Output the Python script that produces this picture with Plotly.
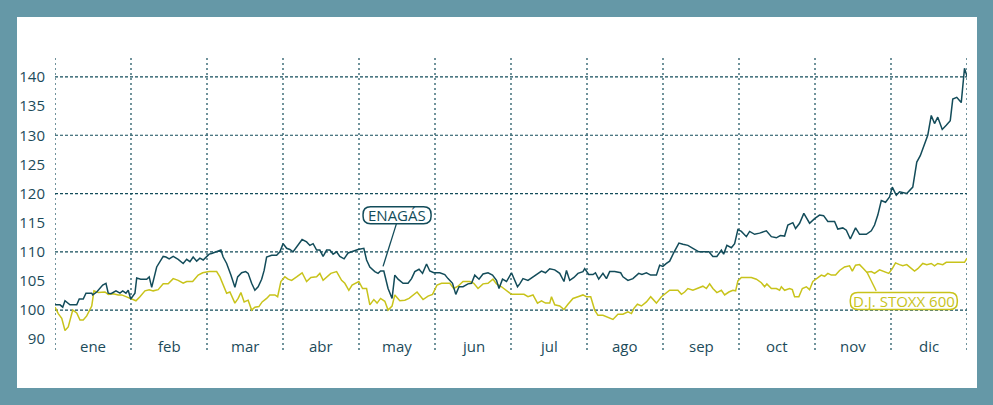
import plotly.graph_objects as go

# ---- data (x = day of year on a uniform 365-day scale) ----
months = ["ene", "feb", "mar", "abr", "may", "jun", "jul", "ago", "sep", "oct", "nov", "dic"]

enagas_day = [0, 2, 3.1, 4, 6, 8.7, 9.7, 11.3, 12.4, 14.7, 15.1, 16.7, 19.1, 20.4, 21.3, 22.4, 24.4, 26,
              27.1, 28.4, 29.3, 30.3, 32, 32.7, 34.3, 36.7, 37.7, 38.7, 40.7, 43.3, 44.4, 45.7, 47.3, 49.3,
              51.3, 52.7, 54, 55.3, 56.7, 58, 59.3, 60.7, 61.7, 62.7, 64.7, 66.4, 67.3, 68.7, 70.4, 72, 73.1,
              74.7, 76.3, 77.3, 78.7, 80, 81.3, 82.7, 83.7, 84.7, 86.7, 88.7, 90, 91.3, 92.7, 94, 95.3, 97.3,
              98.9, 100.7, 102, 103.3, 104.7, 106, 107.3, 108.7, 110, 111.3, 112.7, 114, 115.7, 117.3, 119.3,
              121.3, 123.6, 124.7, 126, 128, 129.3, 130.3, 131.6, 133.3, 134.9, 136, 137.3, 139.3, 141.3,
              142.7, 144, 145.7, 147.1, 148.7, 150, 151.6, 154, 156, 157.3, 159.1, 160.4, 161.7, 163.3, 165.3,
              166.7, 168, 169.7, 171.3, 173.3, 175.1, 176.7, 177.7, 179.1, 180.7, 182.7, 184, 185.1, 186,
              187.3, 189.3, 191.3, 193.1, 194.7, 196.3, 198, 200, 202, 203.7, 204.7, 206, 207.7, 209.3, 211.3,
              212, 213.6, 215.3, 216.3, 217.6, 219.3, 220.7, 222, 224, 226.4, 227.3, 229.3, 231.3, 233.6,
              234.9, 236.7, 238.4, 240.7, 242, 243.3, 244.7, 246, 247.7, 249.7, 251.3, 253.3, 255.3, 257.7,
              259.3, 261.7, 263.3, 264.9, 266.7, 267.6, 268.9, 270.7, 272, 273.3, 274.7, 276.7, 278, 280, 282,
              284.7, 286.7, 288.7, 290.3, 292, 293.3, 295.3, 296.4, 298, 299.7, 302, 304, 306, 307.6, 309.3,
              312, 313.3, 315.3, 316.7, 318.3, 320.4, 322, 324.7, 326.7, 328, 329.3, 330.7, 332.4, 334, 335.1,
              336.7, 338, 340.9, 343.3, 344.9, 346.3, 348, 349.3, 350.7, 352, 353.3, 355.1, 356.7, 358.3,
              359.3, 360.9, 362.7, 364, 365]
enagas_val = [100.9, 100.9, 100.5, 101.6, 100.9, 100.9, 101.9, 101.9, 102.9, 102.9, 102.6, 103.1, 104.3, 104.6,
              102.9, 102.8, 103.3, 102.9, 103.3, 102.9, 103.4, 101.9, 102.9, 105.5, 105.3, 105.3, 105.7, 103.9,
              107.4, 109.2, 109.1, 108.8, 109.2, 108.7, 108.0, 108.7, 108.3, 109.1, 108.4, 108.9, 108.6, 109.1,
              109.6, 109.7, 110.0, 110.3, 109.1, 108.0, 106.0, 103.9, 105.7, 106.4, 106.6, 106.3, 104.6, 103.4,
              104.0, 105.3, 106.8, 109.1, 109.4, 109.4, 110.0, 111.4, 110.6, 110.4, 110.0, 111.1, 112.1, 111.7,
              111.1, 111.4, 110.3, 110.3, 109.2, 110.3, 110.3, 109.6, 110.0, 109.2, 108.8, 109.8, 110.1, 110.4,
              110.6, 108.6, 107.4, 106.6, 106.3, 106.7, 106.7, 103.7, 102.0, 106.0, 105.3, 104.6, 104.6, 105.4,
              106.6, 107.0, 106.3, 107.9, 106.7, 106.4, 106.4, 106.1, 105.4, 104.6, 102.7, 104.0, 104.0, 104.5,
              104.6, 106.0, 105.3, 106.2, 106.4, 106.0, 105.1, 103.7, 105.3, 104.9, 106.4, 105.0, 104.0, 104.5,
              105.4, 105.1, 105.7, 106.3, 106.7, 106.4, 107.1, 106.9, 106.3, 104.9, 106.8, 105.1, 105.6, 106.3,
              106.6, 107.1, 106.1, 106.1, 106.4, 105.3, 106.3, 105.4, 106.6, 106.6, 106.4, 105.7, 105.1, 105.4,
              106.3, 106.1, 106.4, 106.0, 106.0, 107.7, 107.5, 108.0, 108.4, 109.9, 111.5, 111.3, 111.1, 110.6,
              110.0, 110.0, 110.0, 109.2, 109.2, 110.3, 109.6, 111.1, 110.7, 111.4, 113.8, 113.5, 112.6, 113.5,
              113.0, 113.2, 113.6, 112.6, 112.4, 112.8, 112.7, 114.6, 115.0, 114.0, 114.9, 116.6, 114.9, 115.7,
              116.3, 116.2, 115.2, 115.2, 113.9, 114.1, 113.7, 112.2, 114.1, 113.0, 113.0, 113.6, 114.6, 116.3,
              118.8, 118.5, 119.4, 121.1, 119.7, 120.3, 120.0, 121.1, 125.4, 126.5, 128.5, 130.0, 133.4, 132.0,
              133.1, 131.0, 131.7, 132.5, 136.2, 136.5, 135.6, 141.5, 140.1]

stoxx_day = [0, 1.3, 2.7, 4, 5.3, 7.1, 8.7, 10, 11.3, 12.7, 14.7, 15.6, 17.3, 20, 21.3, 23.3, 25.3, 26.7, 28.4,
             30, 32.4, 34, 36, 37.7, 39.3, 41.3, 43.3, 45.3, 47.3, 49.3, 51.3, 52.7, 55.1, 57.3, 59.1, 61.7,
             63.3, 64.7, 66, 67.3, 68.7, 70, 72, 73.3, 74.4, 75.7, 77.3, 78.7, 80, 81.6, 82.9, 84.7, 86, 88,
             89.1, 90.4, 92, 93.3, 94.7, 96.7, 98.9, 100.7, 102.4, 104.7, 106, 107.3, 108.7, 110.4, 112.7,
             114.7, 116, 117.6, 118.9, 121.6, 123.1, 124.7, 126, 127.6, 128.9, 130.3, 132, 133.3, 134.9, 136,
             138, 140, 141.7, 143.3, 144.9, 147.3, 149.3, 151.1, 152.9, 154.7, 158, 159.6, 161.3, 163.3, 166,
             167.6, 169.3, 171.3, 173.3, 175.3, 176.7, 178.7, 180.7, 182.7, 185.7, 187.7, 189.3, 191.3, 193.1,
             194.7, 196.3, 198, 198.7, 200, 202, 203.7, 205.3, 207.3, 209.3, 211.3, 212.7, 214.4, 216, 217.3,
             219.3, 221.3, 223.3, 225.3, 227.3, 229.3, 230.7, 231.7, 233.1, 234.7, 236.7, 238.4, 240.7, 242.7,
             244, 246, 249.3, 250.7, 252, 253.3, 255.3, 257.7, 259.3, 260.7, 262, 263.3, 264.9, 266.7, 268,
             269.7, 271.3, 272.4, 273.3, 274.7, 278.7, 280.7, 282.7, 284, 284.9, 286.7, 288.7, 290, 290.7, 292,
             294, 295.1, 296, 297.7, 299.1, 300.7, 302, 303.3, 305.3, 306.7, 308, 309.3, 310.7, 312.4, 314,
             316, 318, 319.1, 320.4, 322, 323.6, 324.9, 326.7, 328, 330, 332, 333.7, 335.1, 336.4, 338, 339.3,
             340.9, 342.7, 344, 345.3, 347.3, 348.9, 350.7, 352, 353.3, 355.3, 356.7, 359.3, 362, 364, 365]
stoxx_val = [100.5, 99.4, 98.6, 96.5, 97.1, 100.0, 99.5, 98.3, 98.3, 99.0, 100.7, 103.3, 103.0, 103.1, 102.7,
             102.8, 102.6, 102.6, 102.3, 102.0, 101.6, 102.3, 103.3, 103.5, 103.3, 103.5, 104.5, 104.5, 105.4,
             105.1, 104.6, 104.9, 104.9, 106.0, 106.4, 106.6, 106.6, 106.6, 105.7, 104.3, 102.9, 103.1, 101.2,
             102.0, 103.0, 101.4, 101.7, 100.0, 100.5, 100.6, 101.4, 102.0, 102.6, 102.6, 102.3, 104.9, 105.7,
             105.3, 105.1, 105.7, 106.4, 104.9, 105.6, 105.7, 106.3, 105.1, 105.7, 106.3, 106.6, 105.1, 104.6,
             103.4, 104.3, 104.9, 103.7, 103.7, 100.9, 101.8, 101.2, 102.0, 101.5, 100.0, 100.7, 102.6, 101.6,
             101.7, 102.0, 102.6, 103.1, 101.8, 102.4, 102.7, 104.3, 104.6, 104.6, 103.7, 104.1, 104.9, 104.9,
             104.6, 103.7, 104.5, 104.6, 105.3, 104.5, 104.0, 103.3, 102.7, 102.7, 102.7, 102.3, 102.6, 101.2,
             101.6, 101.2, 101.2, 102.3, 100.9, 100.7, 100.1, 101.0, 102.0, 102.3, 102.6, 102.3, 102.3, 100.0,
             99.1, 99.1, 98.7, 98.4, 99.3, 99.3, 99.7, 99.4, 100.3, 101.0, 100.7, 101.4, 102.3, 101.2, 102.3,
             102.7, 103.4, 103.4, 102.7, 103.1, 103.7, 103.4, 103.9, 104.1, 103.7, 104.5, 103.7, 103.0, 103.4,
             102.6, 103.1, 103.4, 103.3, 105.0, 105.6, 105.6, 105.3, 104.7, 104.0, 104.5, 103.7, 103.7, 103.4,
             104.0, 103.4, 103.7, 103.5, 102.3, 102.3, 103.7, 104.0, 103.5, 104.9, 105.6, 106.0, 105.8, 106.3,
             106.0, 106.0, 106.8, 107.4, 107.6, 106.7, 107.7, 107.8, 107.1, 106.5, 106.6, 106.3, 106.9, 106.6,
             106.3, 107.1, 108.1, 107.8, 107.6, 107.8, 107.1, 106.7, 107.1, 108.0, 107.8, 108.0, 107.6, 108.0,
             107.8, 108.2, 108.2, 108.2, 108.2, 108.9]

ytick_vals = [95, 100, 105, 110, 115, 120, 125, 130, 135, 140]
ytick_text = ["90", "100", "105", "110", "115", "120", "125", "130", "135", "140"]
hgrid_vals = [100, 110, 120, 130, 140]

# callout anchors (data points the leader lines touch)
enagas_point = (131.3, 107.5)
stoxx_point = (324.9, 106.55)

# ---- styles ----
DARK = "#134c5a"
YELLOW = "#c8c31b"
FRAME = "#6598a7"
TXT = "#1c4b5a"
FONT = "Open Sans"

YEAR = 365
month_len = YEAR / 12
boundaries = [i * month_len for i in range(13)]
centers = [(i + 0.5) * month_len for i in range(12)]

fig = go.Figure()
fig.add_trace(go.Scatter(x=stoxx_day, y=stoxx_val, mode="lines", name="D.J. STOXX 600",
                         line=dict(color=YELLOW, width=1.5), hoverinfo="skip"))
fig.add_trace(go.Scatter(x=enagas_day, y=enagas_val, mode="lines", name="ENAGÁS",
                         line=dict(color=DARK, width=1.5), hoverinfo="skip"))

shapes = []
# white card on teal frame (paper coords relative to plot domain)
L, R, T, B = 55, 967, 55, 350
def px2px(x):
    return (x - L) / (R - L)
def py2py(y):
    return (B - y) / (B - T)
shapes.append(dict(type="rect", xref="paper", yref="paper", layer="below",
                   x0=px2px(17), x1=px2px(977), y0=py2py(388), y1=py2py(17),
                   fillcolor="white", line=dict(width=0)))

for b in boundaries:
    shapes.append(dict(type="line", xref="x", yref="paper", x0=b, x1=b, y0=0, y1=1, layer="below",
                       line=dict(color=DARK, width=1.2, dash="2px,3px")))
for h in hgrid_vals:
    shapes.append(dict(type="line", xref="paper", yref="y", x0=0, x1=1, y0=h, y1=h, layer="below",
                       line=dict(color=DARK, width=1.2, dash="3px,2px")))


def rounded_rect(cx, cy, w, h, r):
    x0, x1 = cx - w / 2, cx + w / 2
    y0, y1 = cy - h / 2, cy + h / 2
    return (f"M{x0 + r},{y0} L{x1 - r},{y0} Q{x1},{y0} {x1},{y0 + r} L{x1},{y1 - r} "
            f"Q{x1},{y1} {x1 - r},{y1} L{x0 + r},{y1} Q{x0},{y1} {x0},{y1 - r} "
            f"L{x0},{y0 + r} Q{x0},{y0} {x0 + r},{y0} Z")


def callout(point, text, color, dx, dy, w, h, lx, ly):
    px, py = point
    shapes.append(dict(type="line", xref="x", yref="y", xsizemode="pixel", ysizemode="pixel",
                       xanchor=px, yanchor=py, x0=0, y0=0, x1=lx, y1=ly,
                       line=dict(color=color, width=1.3)))
    shapes.append(dict(type="path", xref="x", yref="y", xsizemode="pixel", ysizemode="pixel",
                       xanchor=px, yanchor=py, path=rounded_rect(dx, dy, w, h, h / 2 - 1),
                       fillcolor="white", line=dict(color=color, width=1.5)))
    return dict(x=px, y=py, xref="x", yref="y", text=text, showarrow=False,
                xshift=dx, yshift=dy, font=dict(family=FONT, size=15, color=color))


annotations = []
annotations.append(callout(enagas_point, "ENAGÁS", DARK, 14, 51, 68, 17, 13.4, 42.7))
annotations.append(callout(stoxx_point, "D.J. STOXX 600", YELLOW, 37, -29, 107, 17, 9.4, -19))

for c, m in zip(centers, months):
    annotations.append(dict(x=c, y=py2py(346), xref="x", yref="paper", text=m, showarrow=False,
                            yanchor="middle", font=dict(family=FONT, size=15, color=TXT)))

fig.update_layout(
    width=993, height=405,
    margin=dict(l=L, r=993 - R, t=T, b=405 - B, pad=0),
    paper_bgcolor=FRAME, plot_bgcolor="rgba(0,0,0,0)",
    showlegend=False,
    shapes=shapes, annotations=annotations,
    xaxis=dict(range=[0, YEAR], showgrid=False, zeroline=False, showticklabels=False, ticks="",
               showline=False, fixedrange=True),
    yaxis=dict(range=[93.15, 143.77], showgrid=False, zeroline=False, tickvals=ytick_vals,
               ticktext=ytick_text, ticks="outside", ticklen=6, tickcolor="rgba(0,0,0,0)",
               tickfont=dict(family=FONT, size=15, color=TXT), showline=False, fixedrange=True),
    font=dict(family=FONT),
)

fig.write_html("out.html", config={"displayModeBar": False},
               post_script="document.body.style.margin='0';document.body.style.overflow='hidden';")
